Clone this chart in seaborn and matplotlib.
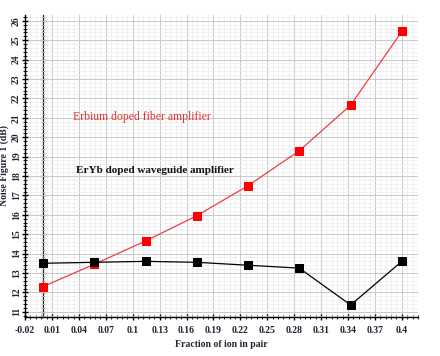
import numpy as np
import pandas as pd
import seaborn as sns
import matplotlib.pyplot as plt
from matplotlib.ticker import AutoMinorLocator, FuncFormatter

fraction = [0.0, 0.0571, 0.1143, 0.1714, 0.2286, 0.2857, 0.3429, 0.4]
erbium_nf = [12.3, 13.45, 14.65, 15.95, 17.5, 19.3, 21.65, 25.45]
eryb_nf = [13.5, 13.55, 13.6, 13.55, 13.4, 13.25, 11.35, 13.6]
xticks = [-0.02, 0.01, 0.04, 0.07, 0.1, 0.13, 0.16, 0.19, 0.22, 0.25, 0.28, 0.31, 0.34, 0.37, 0.4]
yticks = list(range(11, 27))

sns.set_style("white")
plt.rcParams['font.family'] = ['Liberation Serif', 'DejaVu Serif']

fig = plt.figure(figsize=(4.4, 3.56), dpi=100)
ax = fig.add_axes([0.057, 0.110, 0.893, 0.848])

df = pd.DataFrame({'x': fraction, 'er': erbium_nf, 'eryb': eryb_nf})
sns.lineplot(data=df, x='x', y='er', ax=ax, color='#e84048', lw=0.9,
             marker='s', markersize=5.5, markerfacecolor='#ff0000', markeredgecolor='#ff0000', zorder=3)
sns.lineplot(data=df, x='x', y='eryb', ax=ax, color='black', lw=0.9,
             marker='s', markersize=5.5, markerfacecolor='black', markeredgecolor='black', zorder=3)

ax.set_xlim(-0.02, 0.418)
ax.set_ylim(10.74, 26.3)
ax.set_xticks(xticks)
ax.set_yticks(yticks)
ax.xaxis.set_minor_locator(AutoMinorLocator(5))
ax.yaxis.set_minor_locator(AutoMinorLocator(5))
ax.xaxis.set_major_formatter(FuncFormatter(lambda v, p: f"{v:.2f}".rstrip('0')))

ax.grid(which='major', color='#c8c8c8', lw=0.7)
ax.grid(which='minor', color='#ebebeb', lw=0.5)
ax.set_axisbelow(True)

for s in ['top', 'right']:
    ax.spines[s].set_visible(False)
for s in ['left', 'bottom']:
    ax.spines[s].set_color('black')
    ax.spines[s].set_linewidth(1.0)

ax.tick_params(which='major', direction='inout', length=5, width=1, colors='black',
               labelsize=7, left=True, bottom=True)
ax.tick_params(which='minor', direction='inout', length=3, width=0.8, left=True, bottom=True)
ax.tick_params(axis='x', pad=4)
ax.tick_params(axis='y', pad=0.5)
for lbl in ax.get_xticklabels() + ax.get_yticklabels():
    lbl.set_fontweight('bold')
    lbl.set_color('#222233')
for lbl in ax.get_yticklabels():
    lbl.set_rotation(90)
    lbl.set_va('center')

# y axis through x = 0
x0, x1 = ax.get_xlim()
sec = ax.secondary_yaxis((0 - x0) / (x1 - x0))
sec.set_yticks(yticks)
sec.yaxis.set_minor_locator(AutoMinorLocator(5))
sec.tick_params(which='major', direction='inout', length=5, width=0.9, labelleft=False)
sec.tick_params(which='minor', direction='inout', length=3, width=0.7)
sec.spines['left'].set_linewidth(0.9)

ax.set_xlabel('Fraction of ion in pair', fontsize=7, fontweight='bold', color='#222233', labelpad=4)
ax.set_ylabel('Noise Figure 1 (dB)', fontsize=7, fontweight='bold', color='#222233', labelpad=2)

ax.text(0.0335, 20.89, 'Erbium doped fiber amplifier', color='#e83030', fontsize=8.5)
ax.text(0.037, 18.16, 'ErYb doped waveguide amplifier', color='#111111', fontsize=8, fontweight='bold')

fig.savefig('out.png', dpi=100)
